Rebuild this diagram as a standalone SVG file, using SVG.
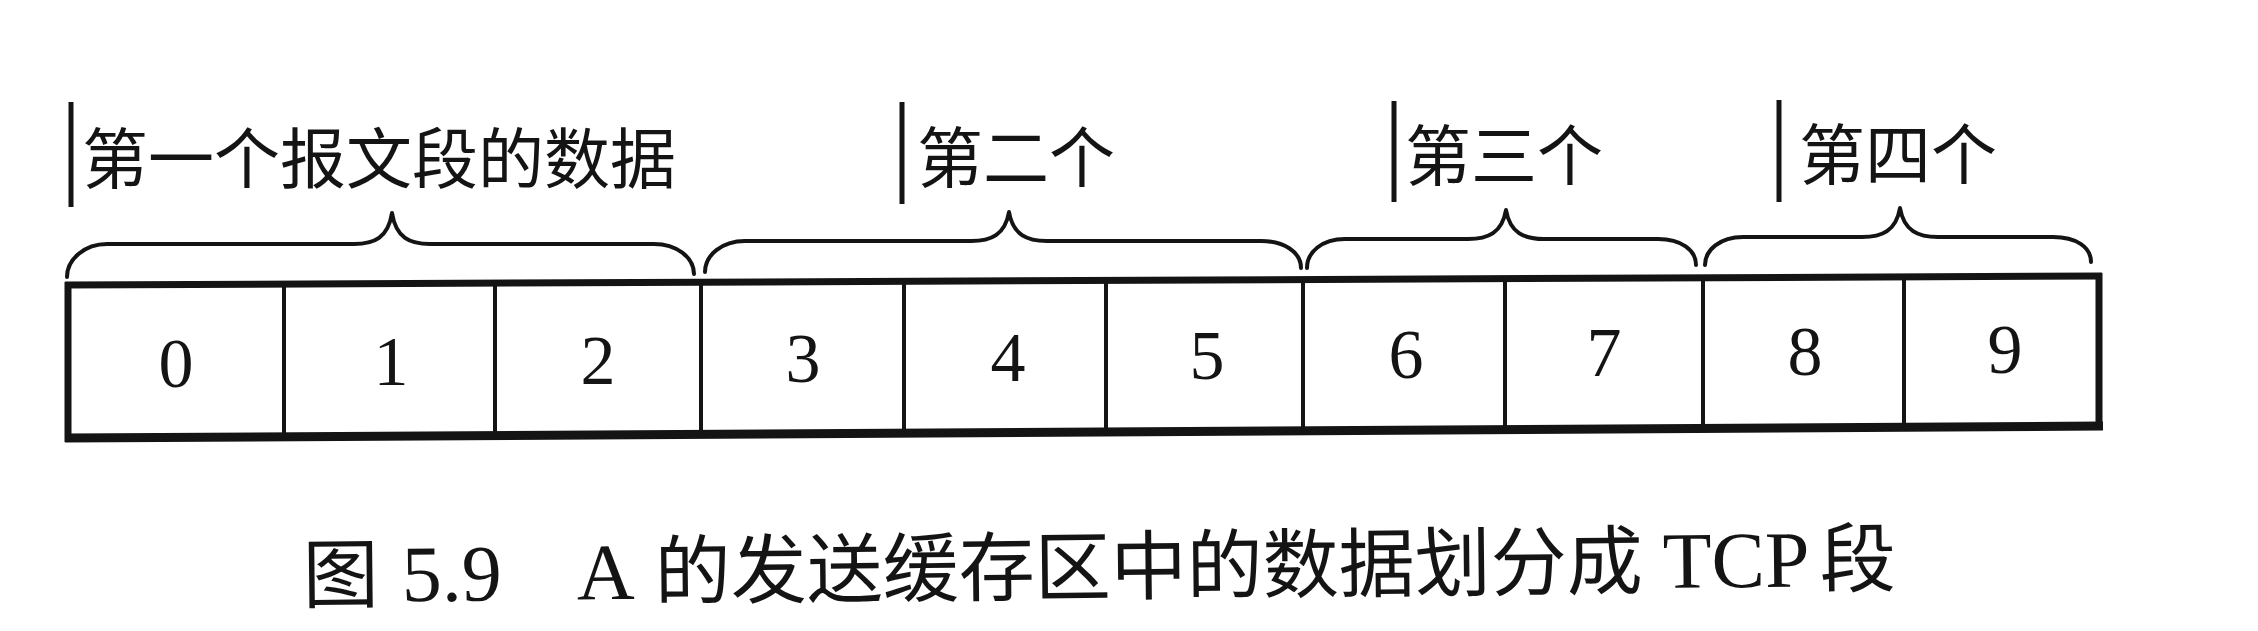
<svg xmlns="http://www.w3.org/2000/svg" width="2258" height="631" viewBox="0 0 2258 631">
  <style>
    .ln { stroke: #141414; fill: none; stroke-linecap: butt; }
    .brace { stroke: #141414; fill: none; stroke-width: 4; stroke-linejoin: round; stroke-linecap: round; }
    .lbl { font-family: "Noto Sans CJK SC", "Noto Sans", sans-serif; font-size: 66px; fill: #141414; }
    .num { font-family: "Liberation Serif", serif; font-size: 70px; fill: #141414; text-anchor: middle; }
    .cap-cjk { font-family: "Noto Sans CJK SC", sans-serif; font-size: 76px; fill: #141414; }
    .cap-lat { font-family: "Liberation Serif", "Noto Sans CJK SC", serif; font-size: 80px; fill: #141414; }
  </style>
  <rect width="2258" height="631" fill="#ffffff"/>

  <!-- segment labels -->
  <g id="label1">
    <line class="ln" x1="71" y1="102" x2="71" y2="207" stroke-width="5"/>
    <text class="lbl" x="82" y="183">第一个报文段的数据</text>
  </g>
  <g id="label2">
    <line class="ln" x1="902" y1="102" x2="902" y2="204" stroke-width="5"/>
    <text class="lbl" x="917" y="182">第二个</text>
  </g>
  <g id="label3">
    <line class="ln" x1="1394" y1="101" x2="1394" y2="202" stroke-width="5"/>
    <text class="lbl" x="1405" y="180">第三个</text>
  </g>
  <g id="label4">
    <line class="ln" x1="1779" y1="100" x2="1779" y2="202" stroke-width="5"/>
    <text class="lbl" x="1799" y="179">第四个</text>
  </g>

  <!-- braces -->
  <g id="braces">
    <path id="brace1" class="brace" d="M 67 277 C 67 259, 85 244, 107 244 L 354 244 C 374 244, 388 238, 392 213 C 396 238, 410 244, 430 244 L 654 244 C 676 244, 694 257, 694 274"/>
    <path id="brace2" class="brace" d="M 705 272 C 705 255, 722 241, 745 241 L 971 241 C 991 241, 1005 235, 1009 212 C 1013 235, 1027 241, 1047 241 L 1261 241 C 1284 241, 1301 252, 1301 268"/>
    <path id="brace3" class="brace" d="M 1307 268 C 1307 252, 1322 239, 1345 239 L 1468 239 C 1488 239, 1502 233, 1506 210 C 1510 233, 1524 239, 1544 239 L 1658 239 C 1681 239, 1696 250, 1696 265"/>
    <path id="brace4" class="brace" d="M 1705 265 C 1705 250, 1720 237, 1743 237 L 1862 237 C 1882 237, 1896 231, 1900 208 C 1904 231, 1918 237, 1938 237 L 2053 237 C 2076 237, 2091 247, 2091 262"/>
  </g>

  <!-- buffer outline -->
  <g id="buffer">
    <line class="ln" x1="65" y1="285" x2="2102" y2="276" stroke-width="7"/>
    <line class="ln" x1="65" y1="438" x2="2103" y2="426" stroke-width="9"/>
    <line class="ln" x1="68" y1="282" x2="68" y2="442" stroke-width="7"/>
    <line class="ln" x1="2099" y1="273" x2="2099" y2="430" stroke-width="7"/>
  </g>

  <!-- cells -->
  <g id="cell0"><text class="num" x="176" y="387">0</text></g>
  <g id="cell1"><line class="ln" x1="284" y1="284" x2="284" y2="437" stroke-width="4"/><text class="num" x="391" y="385">1</text></g>
  <g id="cell2"><line class="ln" x1="495" y1="283" x2="495" y2="436" stroke-width="4"/><text class="num" x="598" y="384">2</text></g>
  <g id="cell3"><line class="ln" x1="701" y1="282" x2="701" y2="434" stroke-width="4"/><text class="num" x="803" y="382">3</text></g>
  <g id="cell4"><line class="ln" x1="904" y1="281" x2="904" y2="433" stroke-width="4"/><text class="num" x="1008" y="381">4</text></g>
  <g id="cell5"><line class="ln" x1="1106" y1="280" x2="1106" y2="432" stroke-width="4"/><text class="num" x="1207" y="379">5</text></g>
  <g id="cell6"><line class="ln" x1="1303" y1="279" x2="1303" y2="431" stroke-width="4"/><text class="num" x="1406" y="378">6</text></g>
  <g id="cell7"><line class="ln" x1="1505" y1="279" x2="1505" y2="430" stroke-width="4"/><text class="num" x="1604" y="376">7</text></g>
  <g id="cell8"><line class="ln" x1="1703" y1="278" x2="1703" y2="428" stroke-width="4"/><text class="num" x="1805" y="375">8</text></g>
  <g id="cell9"><line class="ln" x1="1904" y1="277" x2="1904" y2="427" stroke-width="4"/><text class="num" x="2005" y="373">9</text></g>

  <!-- caption -->
  <g id="caption" transform="rotate(-0.6 1100 594)">
    <text y="594"><tspan class="cap-cjk" x="303">图</tspan><tspan class="cap-lat" x="402">5.9</tspan><tspan class="cap-lat" x="577">A</tspan><tspan class="cap-cjk" x="655">的发送缓存区中的数据划分成</tspan><tspan class="cap-lat" x="1663">TCP</tspan><tspan class="cap-cjk" x="1820">段</tspan></text>
  </g>
</svg>
